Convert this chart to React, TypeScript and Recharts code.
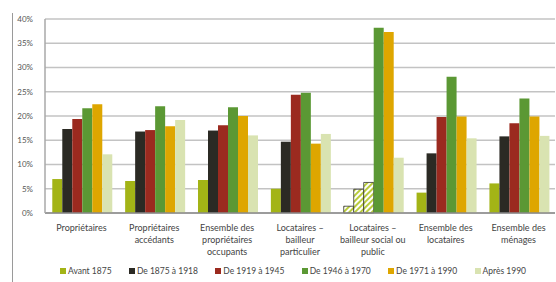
import { BarChart, Bar, XAxis, YAxis, CartesianGrid, Cell } from "recharts";

const categories = [
  "Propriétaires",
  "Propriétaires\naccédants",
  "Ensemble des\npropriétaires\noccupants",
  "Locataires –\nbailleur\nparticulier",
  "Locataires –\nbailleur social ou\npublic",
  "Ensemble des\nlocataires",
  "Ensemble des\nménages",
];

const avant1875 = [7.0, 6.6, 6.8, 5.0, 1.4, 4.2, 6.1];
const de1875a1918 = [17.3, 16.8, 17.0, 14.7, 4.9, 12.3, 15.8];
const de1919a1945 = [19.4, 17.1, 18.1, 24.4, 6.3, 19.8, 18.5];
const de1946a1970 = [21.6, 22.0, 21.8, 24.8, 38.2, 28.1, 23.6];
const de1971a1990 = [22.4, 17.9, 20.0, 14.3, 37.3, 19.9, 19.9];
const apres1990 = [12.1, 19.2, 16.0, 16.3, 11.4, 15.4, 15.9];

// valeurs peu fiables (hachurées)
const hachures = [false, false, false, false, true, false, false];

const yTicks = [0, 5, 10, 15, 20, 25, 30, 35, 40];

const series = [
  { key: "avant1875", name: "Avant 1875", color: "#a3b416", values: avant1875, hatch: true },
  { key: "de1875", name: "De 1875 à 1918", color: "#2b2a24", values: de1875a1918, hatch: true },
  { key: "de1919", name: "De 1919 à 1945", color: "#9b2a1f", values: de1919a1945, hatch: true },
  { key: "de1946", name: "De 1946 à 1970", color: "#5b9834", values: de1946a1970, hatch: false },
  { key: "de1971", name: "De 1971 à 1990", color: "#dea600", values: de1971a1990, hatch: false },
  { key: "apres1990", name: "Après 1990", color: "#d9e3b1", values: apres1990, hatch: false },
];

const data = categories.map((c, i) => {
  const row: Record<string, string | number> = { name: c };
  series.forEach((s) => (row[s.key] = s.values[i]));
  return row;
});

const font = "Lato, 'Noto Sans', sans-serif";

function CategoryTick({ x, y, payload }: any) {
  const lines = String(payload.value).split("\n");
  return (
    <text x={x} y={y + 10} textAnchor="middle" fontSize={9} fill="#444" fontFamily={font}>
      {lines.map((l, i) => (
        <tspan key={i} x={x} dy={i === 0 ? 0 : 12}>
          {l}
        </tspan>
      ))}
    </text>
  );
}

export default function App() {
  return (
    <div style={{ position: "absolute", left: 0, top: 0, width: 556, height: 282, background: "#fff" }}>
      <div
        style={{
          position: "absolute",
          left: 12,
          top: 13,
          bottom: 0,
          borderLeft: "1px solid #9a9a9a",
        }}
      />
      <BarChart
        width={556}
        height={282}
        data={data}
        margin={{ top: 19, right: 1, bottom: 21, left: 0 }}
        barCategoryGap="10%"
        barGap={0}
      >
        <defs>
          <pattern id="hatch" width="4" height="4" patternUnits="userSpaceOnUse" patternTransform="rotate(45)">
            <rect width="4" height="4" fill="#ffffff" />
            <rect width="2" height="4" fill="#b9cc3c" />
          </pattern>
        </defs>
        <CartesianGrid vertical={false} stroke="#c3c3c3" strokeWidth={1.5} />
        <XAxis
          dataKey="name"
          interval={0}
          tick={<CategoryTick />}
          tickLine={false}
          axisLine={{ stroke: "#8a8a8a", strokeWidth: 1.5 }}
          height={48}
        />
        <YAxis
          domain={[0, 40]}
          ticks={yTicks}
          tickFormatter={(v) => `${v}%`}
          width={45}
          tickLine={false}
          axisLine={{ stroke: "#a8a8a8", strokeWidth: 1.5 }}
          tick={{ fontSize: 8, fill: "#555", fontFamily: font }}
          tickMargin={6}
        />
        {series.map((s) => (
          <Bar key={s.key} dataKey={s.key} name={s.name} fill={s.color} isAnimationActive={false}>
            {categories.map((_, i) =>
              s.hatch && hachures[i] ? (
                <Cell key={i} fill="url(#hatch)" stroke="#333" strokeWidth={0.8} />
              ) : (
                <Cell key={i} fill={s.color} />
              )
            )}
          </Bar>
        ))}
      </BarChart>
      <div
        style={{
          position: "absolute",
          left: 60,
          top: 264,
          width: 466,
          height: 14,
          display: "flex",
          justifyContent: "space-between",
          alignItems: "center",
          fontFamily: font,
          fontSize: 8.5,
          color: "#444",
        }}
      >
        {series.map((s) => (
          <div key={s.key} style={{ display: "flex", alignItems: "center", gap: 2 }}>
            <span style={{ width: 6, height: 6, background: s.color, display: "inline-block" }} />
            <span>{s.name}</span>
          </div>
        ))}
      </div>
    </div>
  );
}
